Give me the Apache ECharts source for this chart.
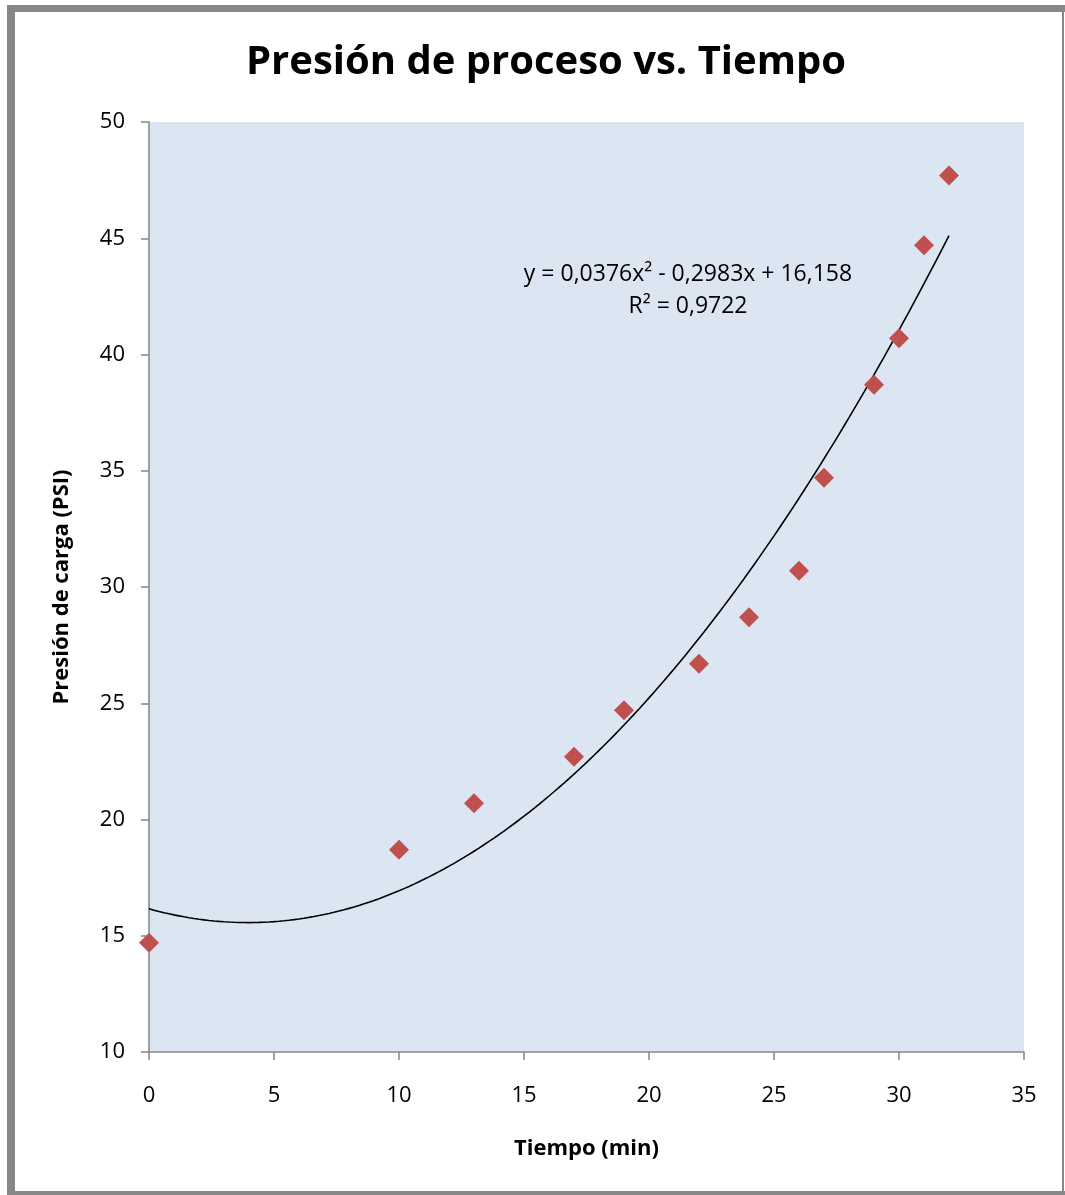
<!DOCTYPE html>
<html>
<head>
<meta charset="utf-8">
<script src="https://cdn.jsdelivr.net/npm/echarts@6/dist/echarts.min.js"></script>
<style>
  html, body { margin: 0; padding: 0; background: #ffffff; }
  #chart { width: 1065px; height: 1195px; }
</style>
</head>
<body>
<div id="chart"></div>
<script>
// Tiempo de muestreo (min) y presión de carga medida (PSI)
const tiempo = [0, 10, 13, 17, 19, 22, 24, 26, 27, 29, 30, 31, 32];
const presion = [14.7, 18.7, 20.7, 22.7, 24.7, 26.7, 28.7, 30.7, 34.7, 38.7, 40.7, 44.7, 47.7];

// Coeficientes de la línea de tendencia polinómica: a·x² + b·x + c
const coefTendencia = [0.0376, -0.2983, 16.158];
const r2Tendencia = 0.9722;

const xTicks = [0, 5, 10, 15, 20, 25, 30, 35];
const yTicks = [10, 15, 20, 25, 30, 35, 40, 45, 50];

const FONT = '"Open Sans", Lato, sans-serif';

// Curva de tendencia evaluada en el rango de los datos
const xMin = tiempo[0], xMax = tiempo[tiempo.length - 1];
const curva = [];
for (let i = 0; i <= 160; i++) {
  const x = xMin + (xMax - xMin) * i / 160;
  const y = coefTendencia[0] * x * x + coefTendencia[1] * x + coefTendencia[2];
  curva.push([x, y]);
}

const fmt = (v, d) => v.toFixed(d).replace('.', ',');
const eqLine1 = 'y = ' + fmt(coefTendencia[0], 4) + 'x² - ' + fmt(Math.abs(coefTendencia[1]), 4) +
  'x + ' + fmt(coefTendencia[2], 3);
const eqLine2 = 'R² = ' + fmt(r2Tendencia, 4);

const chart = echarts.init(document.getElementById('chart'), null, { renderer: 'canvas' });
const frame = '#878787';

chart.setOption({
  backgroundColor: '#ffffff',
  animation: false,
  title: {
    text: 'Presión de proceso vs. Tiempo',
    left: 541,
    top: 38,
    textAlign: 'center',
    textStyle: { fontFamily: FONT, fontWeight: 'bold', fontSize: 40, color: '#000000' }
  },
  grid: {
    left: 149, right: 41, top: 122, bottom: 143,
    show: true, backgroundColor: '#dce6f2', borderWidth: 0
  },
  xAxis: {
    type: 'value',
    min: xTicks[0], max: xTicks[xTicks.length - 1], interval: 5,
    name: 'Tiempo (min)',
    nameLocation: 'middle',
    nameGap: 86,
    nameTextStyle: { fontFamily: FONT, fontWeight: 'bold', fontSize: 22, color: '#000000' },
    axisLine: { show: true, lineStyle: { color: '#868686', width: 1.5 } },
    axisTick: { show: true, inside: false, length: 8, lineStyle: { color: '#868686', width: 1.5 } },
    axisLabel: { fontFamily: FONT, fontSize: 22, color: '#000000', margin: 33 },
    splitLine: { show: false }
  },
  yAxis: {
    type: 'value',
    min: yTicks[0], max: yTicks[yTicks.length - 1], interval: 5,
    name: 'Presión de carga (PSI)',
    nameLocation: 'middle',
    nameGap: 76,
    nameTextStyle: { fontFamily: FONT, fontWeight: 'bold', fontSize: 22, color: '#000000' },
    axisLine: { show: true, lineStyle: { color: '#868686', width: 1.5 } },
    axisTick: { show: true, inside: false, length: 8, lineStyle: { color: '#868686', width: 1.5 } },
    axisLabel: { fontFamily: FONT, fontSize: 22, color: '#000000', margin: 24 },
    splitLine: { show: false }
  },
  series: [
    {
      name: 'Tendencia',
      type: 'line',
      data: curva,
      showSymbol: false,
      smooth: false,
      lineStyle: { color: '#000000', width: 1.6 },
      z: 2
    },
    {
      name: 'Presión',
      type: 'scatter',
      data: tiempo.map((t, i) => [t, presion[i]]),
      symbol: 'diamond',
      symbolSize: [20, 20],
      itemStyle: { color: '#c0504d', opacity: 1 },
      z: 3
    }
  ],
  graphic: [
    { type: 'rect', shape: { x: 7, y: 5, width: 8, height: 1190 }, style: { fill: frame } },
    { type: 'rect', shape: { x: 7, y: 5, width: 1058, height: 7 }, style: { fill: frame } },
    { type: 'rect', shape: { x: 1062, y: 5, width: 2, height: 1190 }, style: { fill: frame } },
    { type: 'rect', shape: { x: 7, y: 1191, width: 1058, height: 4 }, style: { fill: frame } },
    {
      type: 'text',
      style: {
        text: eqLine1 + '\n' + eqLine2,
        x: 688, y: 258,
        align: 'center', verticalAlign: 'top',
        font: '23px ' + FONT, lineHeight: 32, fill: '#000000'
      }
    }
  ]
});
</script>
</body>
</html>
